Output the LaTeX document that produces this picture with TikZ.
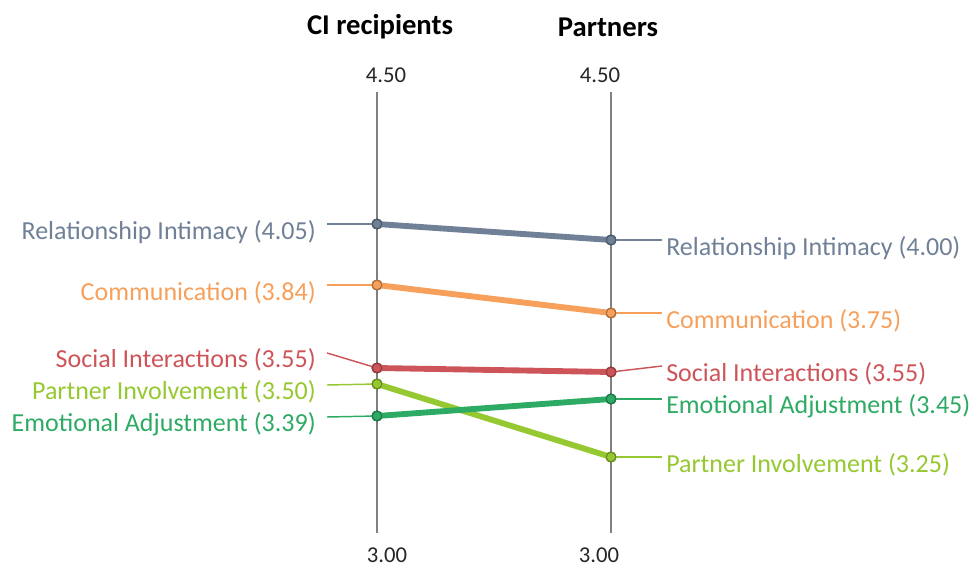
\documentclass[tikz,border=0pt]{standalone}
\usepackage{fontspec}
\setmainfont{Carlito}
\usepackage{xcolor}
\definecolor{intimacy}{RGB}{112,128,150}
\definecolor{communication}{RGB}{246,160,92}
\definecolor{social}{RGB}{205,85,90}
\definecolor{involvement}{RGB}{150,200,50}
\definecolor{adjustment}{RGB}{45,170,100}
\definecolor{axisgray}{RGB}{128,128,128}
\tikzstyle{axis}=[line width=1.8pt, color=axisgray]
\tikzstyle{leader}=[line width=1.1pt]
\tikzstyle{slope}=[line width=4.4pt]
\tikzstyle{dot}=[circle, inner sep=0pt, minimum size=7.5pt, line width=0.9pt]
\tikzstyle{label}=[inner sep=0pt, font=\fontsize{19.5}{23}\selectfont]
\tikzstyle{tick}=[inner sep=0pt, font=\fontsize{17}{20}\selectfont, text=black!85]
\tikzstyle{title}=[inner sep=0pt, font=\fontsize{21.5}{25}\selectfont\bfseries]

\begin{document}
\begin{tikzpicture}[x=0.75pt,y=-0.75pt]
  \useasboundingbox (0,0) rectangle (973,567);
  %% Titles and ticks
  \draw (380,27) node[title] (T1) {CI recipients};
  \draw (608,27) node[title] (T2) {Partners};
  \draw (386,75) node[tick] (H1) {4.50};
  \draw (600,75) node[tick] (H2) {4.50};
  \draw (387,555) node[tick] (B1) {3.00};
  \draw (599,555) node[tick] (B2) {3.00};

  %% Axes
  \coordinate (A1t) at (377,92);
  \coordinate (A1b) at (377,533);
  \coordinate (A2t) at (611,92);
  \coordinate (A2b) at (611,533);
  \draw[axis] (A1t) -- (A1b);
  \draw[axis] (A2t) -- (A2b);

  %% Points
  \draw (377,224) node[dot, fill=intimacy, draw=intimacy!70!black] (P11) {};
  \draw (377,285) node[dot, fill=communication, draw=communication!70!black] (P21) {};
  \draw (377,368) node[dot, fill=social, draw=social!70!black] (P31) {};
  \draw (377,384) node[dot, fill=involvement, draw=involvement!70!black] (P41) {};
  \draw (377,416) node[dot, fill=adjustment, draw=adjustment!70!black] (P51) {};

  \draw (611,240) node[dot, fill=intimacy, draw=intimacy!70!black] (P12) {};
  \draw (611,313) node[dot, fill=communication, draw=communication!70!black] (P22) {};
  \draw (611,372) node[dot, fill=social, draw=social!70!black] (P32) {};
  \draw (611,457) node[dot, fill=involvement, draw=involvement!70!black] (P42) {};
  \draw (611,399) node[dot, fill=adjustment, draw=adjustment!70!black] (P52) {};

  %% Left labels
  \coordinate (E11) at (327,224);
  \coordinate (E21) at (327,285);
  \coordinate (E31) at (327,353);
  \coordinate (E41) at (327,385);
  \coordinate (E51) at (327,417);
  \draw (316,232) node[label, anchor=east, text=intimacy] (N11) {Relationship Intimacy (4.05)};
  \draw (316,293) node[label, anchor=east, text=communication] (N21) {Communication (3.84)};
  \draw (316,360) node[label, anchor=east, text=social] (N31) {Social Interactions (3.55)};
  \draw (316,392) node[label, anchor=east, text=involvement] (N41) {Partner Involvement (3.50)};
  \draw (316,424) node[label, anchor=east, text=adjustment] (N51) {Emotional Adjustment (3.39)};

  %% Right labels
  \coordinate (E12) at (662,240);
  \coordinate (E22) at (662,313);
  \coordinate (E32) at (662,366);
  \coordinate (E42) at (662,457);
  \coordinate (E52) at (662,399);
  \draw (666,248) node[label, anchor=west, text=intimacy] (N12) {Relationship Intimacy (4.00)};
  \draw (666,321) node[label, anchor=west, text=communication] (N22) {Communication (3.75)};
  \draw (666,374) node[label, anchor=west, text=social] (N32) {Social Interactions (3.55)};
  \draw (666,465) node[label, anchor=west, text=involvement] (N42) {Partner Involvement (3.25)};
  \draw (666,406) node[label, anchor=west, text=adjustment] (N52) {Emotional Adjustment (3.45)};

  %% Leaders
  \draw[leader, color=intimacy] (E11) -- (P11.center);
  \draw[leader, color=communication] (E21) -- (P21.center);
  \draw[leader, color=social] (E31) -- (P31.center);
  \draw[leader, color=involvement] (E41) -- (P41.center);
  \draw[leader, color=adjustment] (E51) -- (P51.center);
  \draw[leader, color=intimacy] (P12.center) -- (E12);
  \draw[leader, color=communication] (P22.center) -- (E22);
  \draw[leader, color=social] (P32.center) -- (E32);
  \draw[leader, color=involvement] (P42.center) -- (E42);
  \draw[leader, color=adjustment] (P52.center) -- (E52);

  %% Slopes
  \draw[slope, color=intimacy] (P11.center) -- (P12.center);
  \draw[slope, color=communication] (P21.center) -- (P22.center);
  \draw[slope, color=social] (P31.center) -- (P32.center);
  \draw[slope, color=involvement] (P41.center) -- (P42.center);
  \draw[slope, color=adjustment] (P51.center) -- (P52.center);

  %% Dots on top
  \foreach \p/\c in {P11/intimacy,P21/communication,P31/social,P41/involvement,P51/adjustment,
                     P12/intimacy,P22/communication,P32/social,P42/involvement,P52/adjustment}
    \fill[\c, draw=\c!70!black, line width=0.9pt] (\p.center) circle (3.6pt);
\end{tikzpicture}
\end{document}
